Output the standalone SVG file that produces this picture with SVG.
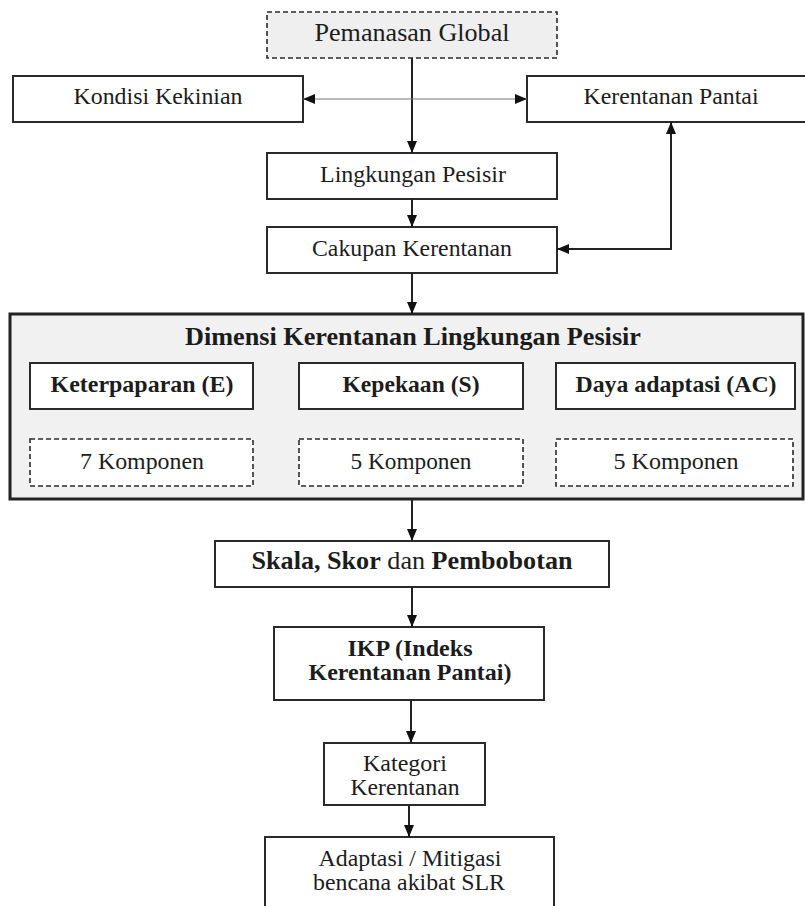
<svg xmlns="http://www.w3.org/2000/svg" width="805" height="906" viewBox="0 0 805 906">
<style>
text{font-family:'Liberation Serif','Times New Roman',Times,serif;fill:#1c1c1c;text-anchor:middle;font-size:24px}
.n{fill:#fff;stroke:#2a2a2a;stroke-width:2}
.d{fill:#fff;stroke:#2a2a2a;stroke-width:1.6;stroke-dasharray:5,3}
.c{fill:none;stroke:#222;stroke-width:2}
.b{font-weight:bold}
</style>
<defs>
<marker id="ah" viewBox="0 0 12 10" markerWidth="12" markerHeight="10" refX="12" refY="5" orient="auto-start-reverse" markerUnits="userSpaceOnUse"><path d="M0,0 L12,5 L0,10 z" fill="#111"/></marker>
</defs>
<rect width="805" height="906" fill="#fff"/>
<g id="pemanasan"><rect class="d" x="267" y="12" width="290" height="46" style="fill:#efefef"/><text x="412" y="41" style="font-size:25px" textLength="195" lengthAdjust="spacingAndGlyphs">Pemanasan Global</text></g>
<g id="kondisi"><rect class="n" x="13" y="76" width="290" height="46"/><text x="158" y="104" style="font-size:24px" textLength="169" lengthAdjust="spacingAndGlyphs">Kondisi Kekinian</text></g>
<g id="kerentanan-pantai"><rect class="n" x="527" y="76" width="290" height="46"/><text x="671" y="104" textLength="175" lengthAdjust="spacingAndGlyphs">Kerentanan Pantai</text></g>
<g id="lingkungan"><rect class="n" x="267" y="153" width="290" height="46"/><text x="413" y="182" textLength="186" lengthAdjust="spacingAndGlyphs">Lingkungan Pesisir</text></g>
<g id="cakupan"><rect class="n" x="267" y="227" width="290" height="46"/><text x="412" y="256" textLength="200" lengthAdjust="spacingAndGlyphs">Cakupan Kerentanan</text></g>
<g id="dimensi">
<rect x="10" y="314" width="793" height="185" fill="#f1f1f1" stroke="#222" stroke-width="3"/>
<text class="b" x="413" y="345" style="font-size:25px" textLength="456" lengthAdjust="spacingAndGlyphs">Dimensi Kerentanan Lingkungan Pesisir</text>
<g id="keterpaparan"><rect class="n" x="30" y="363" width="223" height="46"/><text class="b" x="142" y="392" style="font-size:23px" textLength="183" lengthAdjust="spacingAndGlyphs">Keterpaparan (E)</text></g>
<g id="kepekaan"><rect class="n" x="299" y="363" width="224" height="46"/><text class="b" x="411" y="392" style="font-size:23px" textLength="137" lengthAdjust="spacingAndGlyphs">Kepekaan (S)</text></g>
<g id="daya"><rect class="n" x="556" y="363" width="239" height="46"/><text class="b" x="676" y="392" style="font-size:23px" textLength="201" lengthAdjust="spacingAndGlyphs">Daya adaptasi (AC)</text></g>
<g id="komp-e"><rect class="d" x="30" y="439" width="223" height="47"/><text x="142" y="469" style="font-size:23px" textLength="124" lengthAdjust="spacingAndGlyphs">7 Komponen</text></g>
<g id="komp-s"><rect class="d" x="299" y="439" width="224" height="47"/><text x="411" y="469" style="font-size:23px" textLength="121" lengthAdjust="spacingAndGlyphs">5 Komponen</text></g>
<g id="komp-ac"><rect class="d" x="556" y="439" width="237" height="47"/><text x="676" y="469" style="font-size:23px" textLength="125" lengthAdjust="spacingAndGlyphs">5 Komponen</text></g>
</g>
<g id="skala"><rect class="n" x="215" y="541" width="394" height="46"/><text x="412" y="569" style="font-size:25px" textLength="321" lengthAdjust="spacingAndGlyphs"><tspan class="b">Skala, Skor</tspan> dan <tspan class="b">Pembobotan</tspan></text></g>
<g id="ikp"><rect class="n" x="274" y="627" width="270" height="73"/><text class="b" x="410" y="656" style="font-size:23px" textLength="125" lengthAdjust="spacingAndGlyphs">IKP (Indeks</text><text class="b" x="410" y="680" style="font-size:23px" textLength="203" lengthAdjust="spacingAndGlyphs">Kerentanan Pantai)</text></g>
<g id="kategori"><rect class="n" x="324" y="743" width="161" height="62"/><text x="405" y="771" style="font-size:23px" textLength="84" lengthAdjust="spacingAndGlyphs">Kategori</text><text x="405" y="795" style="font-size:23px" textLength="109" lengthAdjust="spacingAndGlyphs">Kerentanan</text></g>
<g id="adaptasi"><rect class="n" x="265" y="837" width="289" height="90"/><text x="410" y="866" style="font-size:23px" textLength="183" lengthAdjust="spacingAndGlyphs">Adaptasi / Mitigasi</text><text x="409" y="890" style="font-size:23px" textLength="192" lengthAdjust="spacingAndGlyphs">bencana akibat SLR</text></g>
<g id="connectors">
<line class="c" x1="412" y1="58" x2="412" y2="153" marker-end="url(#ah)"/>
<line class="c" x1="303" y1="99" x2="527" y2="99" style="stroke-width:1;stroke:#777" marker-start="url(#ah)" marker-end="url(#ah)"/>
<line class="c" x1="412" y1="199" x2="412" y2="227" marker-end="url(#ah)"/>
<path class="c" d="M557,249 H671 V122" marker-start="url(#ah)" marker-end="url(#ah)"/>
<line class="c" x1="412" y1="273" x2="412" y2="314" marker-end="url(#ah)"/>
<line class="c" x1="412" y1="499" x2="412" y2="541" marker-end="url(#ah)"/>
<line class="c" x1="412" y1="587" x2="412" y2="627" marker-end="url(#ah)"/>
<line class="c" x1="411" y1="700" x2="411" y2="743" marker-end="url(#ah)"/>
<line class="c" x1="409" y1="805" x2="409" y2="837" marker-end="url(#ah)"/>
</g>
</svg>
